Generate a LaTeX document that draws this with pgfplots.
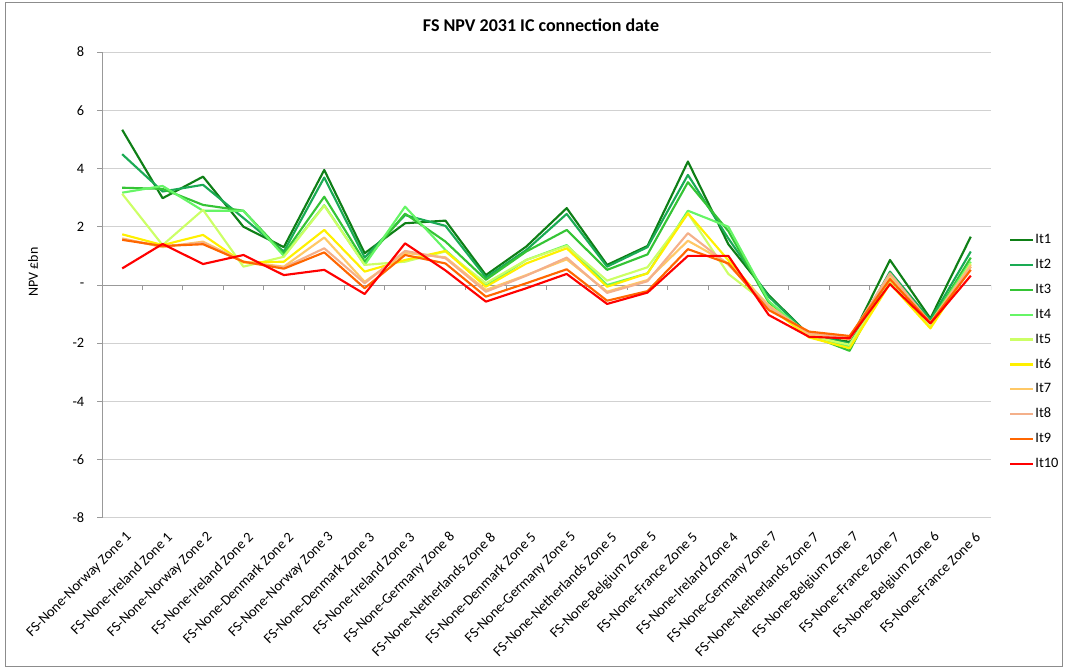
\documentclass[border=0pt]{standalone}
\usepackage{fontspec}
\setmainfont{Carlito}
\usepackage{pgfplots}
\pgfplotsset{compat=1.18}
\usepackage{pgfplotstable}

\definecolor{cA}{HTML}{0E7F16}
\definecolor{cB}{HTML}{1AAB54}
\definecolor{cC}{HTML}{35C435}
\definecolor{cD}{HTML}{66F566}
\definecolor{cE}{HTML}{CCFF66}
\definecolor{cF}{HTML}{FFF000}
\definecolor{cG}{HTML}{FFC866}
\definecolor{cH}{HTML}{F4B08A}
\definecolor{cI}{HTML}{FF6600}
\definecolor{cJ}{HTML}{FF0000}

% NPV (GBP bn) per zone, iterations It1..It10
\pgfplotstableread{
x  It1   It2   It3   It4   It5   It6   It7   It8   It9   It10
0  5.33  4.49  3.34  3.17  3.13  1.74  1.60  1.58  1.55  0.57
1  2.98  3.21  3.30  3.40  1.37  1.37  1.30  1.32  1.34  1.41
2  3.72  3.44  2.75  2.55  2.58  1.72  1.49  1.45  1.40  0.72
3  2.00  2.30  2.55  2.55  0.63  0.77  0.80  0.80  0.80  1.03
4  1.30  1.15  1.07  1.00  0.97  0.80  0.63  0.60  0.56  0.34
5  3.95  3.69  3.03  2.74  2.72  1.89  1.63  1.26  1.12  0.52
6  1.09  0.94  0.80  0.69  0.69  0.46  0.11  0.06 -0.11 -0.31
7  2.12  2.40  2.45  2.69  0.80  0.86  1.10  1.17  1.03  1.43
8  2.21  2.03  1.49  1.20  1.15  1.17  0.95  0.92  0.74  0.50
9  0.34  0.26  0.18 -0.03  0.06 -0.06 -0.17 -0.23 -0.40 -0.57
10 1.32  1.20  1.15  0.86  0.86  0.74  0.34  0.32  0.06 -0.11
11 2.64  2.44  1.89  1.37  1.34  1.26  0.88  0.94  0.54  0.38
12 0.69  0.63  0.52  0.00  0.15 -0.06 -0.23 -0.27 -0.54 -0.65
13 1.34  1.30  1.05  0.40  0.61  0.40  0.17  0.13 -0.21 -0.26
14 4.24  3.78  3.53  2.55  2.46  2.46  1.52  1.78  1.23  1.00
15 1.40  1.60  1.85  2.00  0.38  0.85  0.74  0.70  0.74  1.00
16 -0.35 -0.40 -0.60 -0.55 -0.70 -0.75 -0.70 -0.75 -0.86 -1.03
17 -1.72 -1.72 -1.72 -1.75 -1.75 -1.80 -1.70 -1.65 -1.60 -1.78
18 -1.95 -2.00 -2.26 -2.12 -2.05 -2.17 -1.87 -1.80 -1.75 -1.83
19 0.86  0.46  0.37  0.30  0.10  0.05  0.28  0.40  0.20  0.03
20 -1.15 -1.20 -1.30 -1.30 -1.45 -1.49 -1.30 -1.30 -1.30 -1.32
21 1.66  1.15  0.94  0.80  0.74  0.63  0.69  0.63  0.52  0.32
}\npvdata

\begin{document}
\begin{tikzpicture}[x=0.75pt,y=0.75pt]
\useasboundingbox (0,0) rectangle (1065,670);
\draw[black!45, line width=0.75pt] (5,3) rectangle (1062,667);
\node[font=\bfseries\fontsize{13.5}{16}\selectfont] at (541,645) {FS NPV 2031 IC connection date};
\node[rotate=90, font=\fontsize{10.5}{12}\selectfont] at (33,398) {NPV £bn};

\begin{axis}[
  at={(76.5pt,114pt)}, anchor=south west,
  width=666.75pt, height=349.5pt, scale only axis,
  xmin=-0.5, xmax=21.5, ymin=-8, ymax=8,
  axis y line*=left, axis x line*=bottom,
  x axis line style={draw=none},
  y axis line style={draw=black!40, line width=0.75pt},
  ytick={-8,-6,...,8},
  yticklabels={-8,-6,-4,-2,-,2,4,6,8},
  ymajorgrids,
  grid style={draw=black!18, line width=0.75pt},
  tick align=outside, major tick length=3.75pt,
  ytick style={draw=black!40, line width=0.75pt},
  xtick={0,...,21}, xtick style={draw=none},
  xticklabels={FS-None-Norway Zone 1,FS-None-Ireland Zone 1,FS-None-Norway Zone 2,
    FS-None-Ireland Zone 2,FS-None-Denmark Zone 2,FS-None-Norway Zone 3,
    FS-None-Denmark Zone 3,FS-None-Ireland Zone 3,FS-None-Germany Zone 8,
    FS-None-Netherlands Zone 8,FS-None-Denmark Zone 5,FS-None-Germany Zone 5,
    FS-None-Netherlands Zone 5,FS-None-Belgium Zone 5,FS-None-France Zone 5,
    FS-None-Ireland Zone 4,FS-None-Germany Zone 7,FS-None-Netherlands Zone 7,
    FS-None-Belgium Zone 7,FS-None-France Zone 7,FS-None-Belgium Zone 6,
    FS-None-France Zone 6},
  xticklabel style={rotate=45, anchor=east, font=\fontsize{10.8}{12}\selectfont, yshift=-10pt, xshift=1pt},
  yticklabel style={font=\fontsize{10.8}{12}\selectfont, xshift=-6pt},
  legend style={at={(1.0157,0.62)}, anchor=north west, draw=none, fill=none,
    font=\fontsize{10.8}{12}\selectfont, row sep=7pt,
    nodes={inner sep=1pt, text height=7.5pt, text depth=2.2pt}},
  legend cell align=left,
  every axis plot/.append style={line width=1.6pt, line join=round},
]
\pgfplotsinvokeforeach{0.5,1.5,...,21.5}{\draw[black!40, line width=0.75pt] (axis cs:#1,0) -- ([yshift=-3.75pt]axis cs:#1,0);}
\draw[black!40, line width=0.75pt] (axis cs:-0.5,0) -- (axis cs:21.5,0);
\addplot[cA] table[x=x,y=It1]{\npvdata}; \addlegendentry{It1}
\addplot[cB] table[x=x,y=It2]{\npvdata}; \addlegendentry{It2}
\addplot[cC] table[x=x,y=It3]{\npvdata}; \addlegendentry{It3}
\addplot[cD] table[x=x,y=It4]{\npvdata}; \addlegendentry{It4}
\addplot[cE] table[x=x,y=It5]{\npvdata}; \addlegendentry{It5}
\addplot[cF] table[x=x,y=It6]{\npvdata}; \addlegendentry{It6}
\addplot[cG] table[x=x,y=It7]{\npvdata}; \addlegendentry{It7}
\addplot[cH] table[x=x,y=It8]{\npvdata}; \addlegendentry{It8}
\addplot[cI] table[x=x,y=It9]{\npvdata}; \addlegendentry{It9}
\addplot[cJ] table[x=x,y=It10]{\npvdata}; \addlegendentry{It10}
\end{axis}
\end{tikzpicture}
\end{document}
